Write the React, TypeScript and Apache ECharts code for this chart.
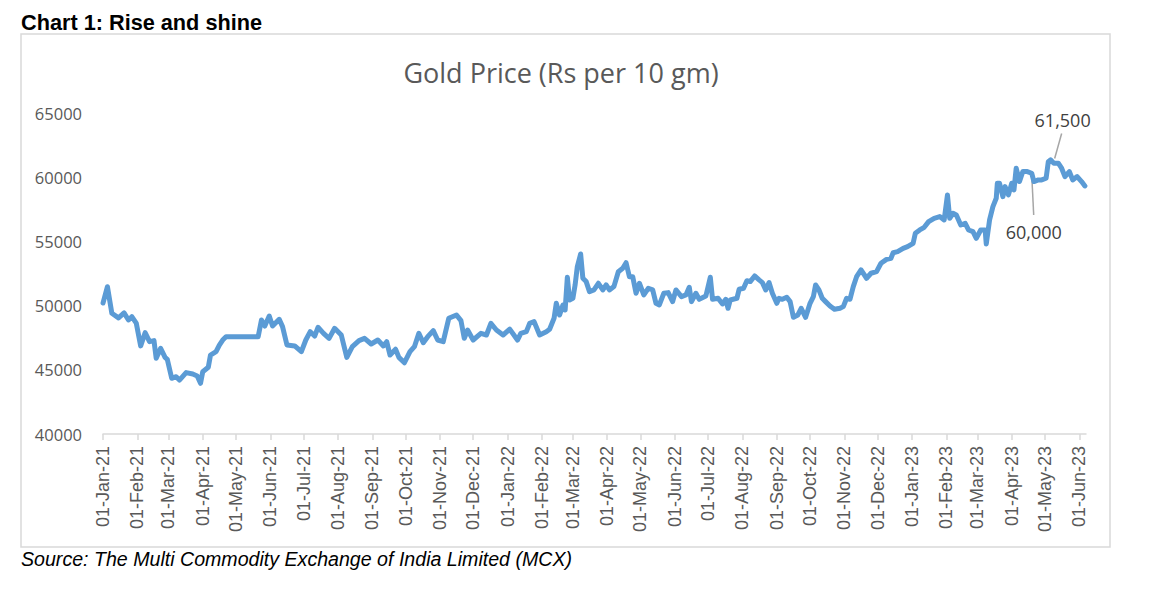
import React, { useEffect, useRef } from "react";
import * as echarts from "echarts";

const MONTHS = ["Jan","Feb","Mar","Apr","May","Jun","Jul","Aug","Sep","Oct","Nov","Dec"];

const axisStart = "2021-01-01";
const axisEnd = "2023-06-07";

const dates2021 = [
  "2021-01-01","2021-01-05","2021-01-09","2021-01-15","2021-01-20","2021-01-24","2021-01-27","2021-01-31",
  "2021-02-04","2021-02-08","2021-02-12","2021-02-16","2021-02-18","2021-02-22","2021-02-26","2021-02-28",
  "2021-03-04","2021-03-08","2021-03-11","2021-03-17","2021-03-23","2021-03-27","2021-03-30",
  "2021-04-01","2021-04-06","2021-04-08","2021-04-13","2021-04-16","2021-04-19","2021-04-22",
  "2021-05-21","2021-05-24","2021-05-27","2021-05-31",
  "2021-06-03","2021-06-09","2021-06-12","2021-06-16","2021-06-23","2021-06-29",
  "2021-07-03","2021-07-07","2021-07-11","2021-07-14","2021-07-19","2021-07-24","2021-07-29",
  "2021-08-04","2021-08-09","2021-08-14","2021-08-20","2021-08-25","2021-08-31",
  "2021-09-06","2021-09-11","2021-09-14","2021-09-17","2021-09-22","2021-09-25","2021-09-30",
  "2021-10-05","2021-10-09","2021-10-13","2021-10-17","2021-10-21","2021-10-26","2021-10-30",
  "2021-11-04","2021-11-09","2021-11-16","2021-11-20","2021-11-23","2021-11-26",
  "2021-12-01","2021-12-08","2021-12-13","2021-12-17","2021-12-22","2021-12-28"
];
const values2021 = [
  50200,51470,49400,49040,49430,48880,49140,48640,
  46860,47890,47190,47270,45900,46680,45970,45820,
  44340,44460,44200,44780,44670,44520,43950,
  44850,45200,46150,46410,46930,47320,47580,
  47580,48880,48410,49190,
  48410,48930,48360,46930,46860,46410,
  47320,47970,47630,48310,47840,47450,48230,
  47710,45970,46800,47270,47450,47010,
  47320,46860,47190,46150,46600,45970,45550,
  46410,46800,47840,47110,47580,48050,47320,
  47190,49010,49270,48830,47450,48100,
  47320,47840,47710,48620,48100,47710
];

const dates2022 = [
  "2022-01-03","2022-01-10","2022-01-13","2022-01-18","2022-01-21","2022-01-25","2022-01-30",
  "2022-02-05","2022-02-08","2022-02-12","2022-02-14","2022-02-17","2022-02-20","2022-02-22","2022-02-24","2022-02-26",
  "2022-03-01","2022-03-03","2022-03-05","2022-03-08","2022-03-10","2022-03-13","2022-03-16","2022-03-20","2022-03-24","2022-03-28","2022-03-31",
  "2022-04-03","2022-04-07","2022-04-11","2022-04-15","2022-04-18","2022-04-21","2022-04-24","2022-04-27","2022-04-30",
  "2022-05-04","2022-05-08","2022-05-12","2022-05-15","2022-05-18","2022-05-22","2022-05-26","2022-05-30",
  "2022-06-02","2022-06-07","2022-06-11","2022-06-14","2022-06-16","2022-06-20","2022-06-23","2022-06-29",
  "2022-07-03","2022-07-05","2022-07-10","2022-07-14","2022-07-17","2022-07-19","2022-07-21","2022-07-27","2022-07-29",
  "2022-08-02","2022-08-05","2022-08-08","2022-08-12","2022-08-16","2022-08-19","2022-08-22","2022-08-25","2022-08-28",
  "2022-09-01","2022-09-03","2022-09-06","2022-09-10","2022-09-13","2022-09-16","2022-09-20","2022-09-23","2022-09-27",
  "2022-10-01","2022-10-04","2022-10-06","2022-10-09","2022-10-12","2022-10-15","2022-10-19","2022-10-23","2022-10-28","2022-10-31",
  "2022-11-03","2022-11-06","2022-11-09","2022-11-12","2022-11-16","2022-11-21","2022-11-25","2022-11-30",
  "2022-12-04","2022-12-09","2022-12-13","2022-12-15","2022-12-19","2022-12-24","2022-12-28"
];
const values2022 = [
  48160,47320,47840,47970,48620,48750,47710,
  47970,48160,49010,50180,49270,50050,49660,52210,50440,
  50570,51610,53040,54020,52130,51870,51090,51220,51740,51220,51610,
  51220,51480,52640,52910,53340,52250,52250,50960,51740,
  50830,51350,51220,50180,50050,50960,51010,50310,
  51220,50700,50830,51430,50310,50960,50490,50750,
  52210,50490,50570,50130,50490,49790,50440,50570,51270,
  51350,51940,51870,52310,52000,51790,51220,51790,50960,
  50180,50570,50490,50650,50310,49090,49270,49790,49090,
  50180,50700,51610,51220,50570,50310,49970,49710,49790,49920,
  50570,50490,51480,52250,52780,52130,52520,52640,
  53300,53600,53690,54120,54200,54460,54590
];

const dates2023 = [
  "2023-01-02","2023-01-04","2023-01-08","2023-01-12","2023-01-16","2023-01-21","2023-01-26","2023-01-30",
  "2023-02-02","2023-02-04","2023-02-07","2023-02-10","2023-02-14","2023-02-18","2023-02-21","2023-02-25","2023-02-28",
  "2023-03-04","2023-03-08","2023-03-09","2023-03-12","2023-03-15","2023-03-18","2023-03-19","2023-03-21","2023-03-24","2023-03-26","2023-03-29",
  "2023-04-01","2023-04-03","2023-04-05","2023-04-08","2023-04-11","2023-04-15","2023-04-19","2023-04-21","2023-04-25","2023-04-28",
  "2023-05-02","2023-05-04","2023-05-06","2023-05-09","2023-05-13","2023-05-16","2023-05-19","2023-05-23","2023-05-26","2023-05-30",
  "2023-06-03","2023-06-06"
];
const values2023 = [
  54850,55630,55890,56100,56540,56800,56930,56670,
  58620,56800,57190,57060,56280,56410,55890,55760,55240,
  55890,55890,54800,56670,57710,58360,59530,59530,58490,59270,58620,
  59530,59010,60700,59660,60440,60440,60310,59660,59790,59790,
  59920,61210,61350,61090,61090,60700,60050,60440,59790,60050,
  59660,59320
];

const annotationLabels = ["61,500", "60,000"];
const annotationDates = ["2023-05-07", "2023-04-19"];
const annotationValues = [61300, 60400];

const yTicks = { min: 40000, max: 65000, interval: 5000 };

function fmt(iso: string): string {
  const [y, m, d] = iso.split("-").map(Number);
  return String(d).padStart(2, "0") + "-" + MONTHS[m - 1] + "-" + String(y % 100).padStart(2, "0");
}

function buildCategories(): string[] {
  const out: string[] = [];
  const [ys, ms, ds] = axisStart.split("-").map(Number);
  const [ye, me, de] = axisEnd.split("-").map(Number);
  let t = Date.UTC(ys, ms - 1, ds);
  const end = Date.UTC(ye, me - 1, de);
  while (t <= end) {
    const dt = new Date(t);
    out.push(
      String(dt.getUTCDate()).padStart(2, "0") + "-" + MONTHS[dt.getUTCMonth()] + "-" + String(dt.getUTCFullYear() % 100).padStart(2, "0")
    );
    t += 86400000;
  }
  return out;
}

export default function App() {
  const ref = useRef<HTMLDivElement>(null);
  useEffect(() => {
    if (!ref.current) return;
    const chart = echarts.init(ref.current, null, { renderer: "svg" });
    const categories = buildCategories();
    const allDates = [...dates2021, ...dates2022, ...dates2023];
    const allValues = [...values2021, ...values2022, ...values2023];
    const seriesData = allDates.map((d, i) => [fmt(d), allValues[i]]);
    const isMonthStart = (_i: number, v: string) => typeof v === "string" && v.startsWith("01-");

    chart.setOption({
      animation: false,
      grid: { left: 103, right: 72, top: 113, bottom: 159 },
      xAxis: {
        type: "category",
        data: categories,
        boundaryGap: false,
        axisLine: { show: true, lineStyle: { color: "#d9d9d9", width: 1.5 } },
        axisTick: { show: true, interval: isMonthStart, length: 6, lineStyle: { color: "#d9d9d9", width: 1.5 } },
        axisLabel: {
          interval: isMonthStart,
          rotate: 90,
          margin: 12,
          color: "#595959",
          fontSize: 18,
          fontFamily: "Liberation Sans, Arial, sans-serif",
        },
        splitLine: { show: false },
      },
      yAxis: {
        type: "value",
        min: yTicks.min,
        max: yTicks.max,
        interval: yTicks.interval,
        axisLine: { show: false },
        axisTick: { show: false },
        splitLine: { show: false },
        axisLabel: {
          color: "#595959",
          fontSize: 16.5,
          fontFamily: "Open Sans, sans-serif",
          margin: 21,
          formatter: (v: number) => String(v),
        },
      },
      series: [
        {
          type: "line",
          data: seriesData,
          symbol: "none",
          lineStyle: { color: "#5b9bd5", width: 5, cap: "round", join: "round" },
          itemStyle: { color: "#5b9bd5" },
        },
      ],
    });

    const p1 = chart.convertToPixel({ seriesIndex: 0 }, [fmt(annotationDates[0]), annotationValues[0]]) as number[];
    const p2 = chart.convertToPixel({ seriesIndex: 0 }, [fmt(annotationDates[1]), annotationValues[1]]) as number[];

    chart.setOption({
      graphic: [
        {
          type: "rect",
          shape: { x: 21, y: 34, width: 1089, height: 513 },
          style: { fill: "none", stroke: "#d9d9d9", lineWidth: 1.5 },
          silent: true,
        },
        {
          type: "text",
          x: 21,
          y: 11,
          style: { text: "Chart 1: Rise and shine", fill: "#000", font: "bold 21.7px 'Liberation Sans', Arial, sans-serif" },
        },
        {
          type: "text",
          x: 21,
          y: 549,
          style: { text: "Source: The Multi Commodity Exchange of India Limited (MCX)", fill: "#000", font: "italic 19.6px 'Liberation Sans', Arial, sans-serif" },
        },
        {
          type: "text",
          x: 561,
          y: 72,
          style: { text: "Gold Price (Rs per 10 gm)", fill: "#595959", font: "27px 'Open Sans', sans-serif", align: "center", verticalAlign: "middle" },
        },
        {
          type: "line",
          shape: { x1: p1[0] + 3, y1: p1[1] - 2, x2: p1[0] + 10, y2: p1[1] - 27 },
          style: { stroke: "#a6a6a6", lineWidth: 1.5 },
        },
        {
          type: "text",
          x: p1[0] + 11,
          y: p1[1] - 41,
          style: { text: annotationLabels[0], fill: "#404040", font: "18px 'Open Sans', sans-serif", align: "center", verticalAlign: "middle" },
        },
        {
          type: "line",
          shape: { x1: p2[0], y1: p2[1] + 2, x2: p2[0] + 2, y2: p2[1] + 43 },
          style: { stroke: "#a6a6a6", lineWidth: 1.5 },
        },
        {
          type: "text",
          x: p2[0] + 2,
          y: p2[1] + 60,
          style: { text: annotationLabels[1], fill: "#404040", font: "18px 'Open Sans', sans-serif", align: "center", verticalAlign: "middle" },
        },
      ],
    });

    return () => chart.dispose();
  }, []);

  return <div ref={ref} style={{ position: "absolute", left: 0, top: 0, width: 1158, height: 593 }} />;
}
